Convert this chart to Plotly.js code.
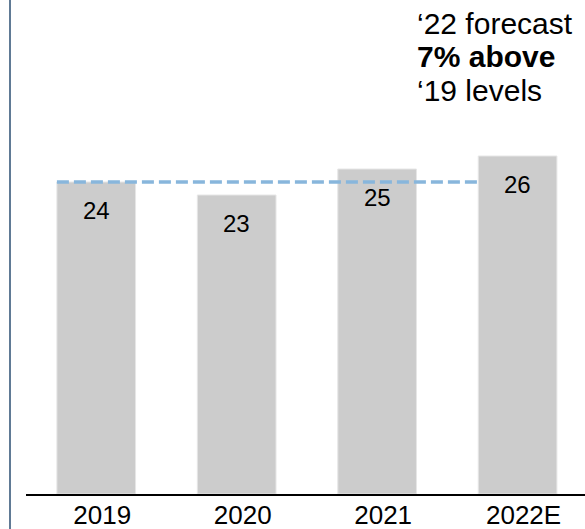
<!DOCTYPE html>
<html>
<head>
<meta charset="utf-8">
<script src="https://cdn.plot.ly/plotly-3.0.1.min.js"></script>
<style>html,body{margin:0;padding:0;background:#fff;}#chart{width:585px;height:529px;}</style>
</head>
<body>
<div id="chart"></div>
<script>
const categories = ['2019', '2020', '2021', '2022E'];
const values = [24, 23, 25, 26];
const noteLines = ['\u201822 forecast', '<b>7% above</b>', '\u201819 levels'];

const FONT = 'Arial, "Liberation Sans", sans-serif';
const W = 585, H = 529, ML = 26, MR = 0, MT = 0, MB = 35;
const plotW = W - ML - MR, plotH = H - MT - MB;
const px2paperX = p => (p - ML) / plotW;
const px2paperY = p => 1 - (p - MT) / plotH;

const trace = {
  type: 'bar',
  x: categories,
  y: values,
  marker: {color: '#cccccc', line: {color: '#e6e6e6', width: 1}},
  hoverinfo: 'skip'
};

// bar value labels (category index used as x so numeric-looking names stay on the category axis)
const annotations = values.map((v, i) => ({
  x: i, y: v, xref: 'x', yref: 'y',
  text: String(v), showarrow: false, yanchor: 'middle', yshift: -28,
  font: {family: FONT, size: 24, color: '#000'}
}));

const noteY = [23, 56.5, 90];
noteLines.forEach((t, i) => {
  annotations.push({
    x: px2paperX(415), y: px2paperY(noteY[i]), xref: 'paper', yref: 'paper',
    xanchor: 'left', yanchor: 'middle', text: t, showarrow: false,
    font: {family: FONT, size: 30, color: '#000'}
  });
});

const shapes = [
  {type: 'line', xref: 'paper', yref: 'paper',
   x0: px2paperX(10), x1: px2paperX(10), y0: px2paperY(H + 2), y1: px2paperY(-2),
   line: {color: '#607a95', width: 2}},
  {type: 'line', xref: 'x', yref: 'y',
   x0: -0.28, x1: 2.74, y0: values[0], y1: values[0],
   line: {color: '#88b6dc', width: 3.5, dash: '12px,5px'}}
];

const layout = {
  width: W, height: H,
  margin: {l: ML, r: MR, t: MT, b: MB, pad: 0},
  paper_bgcolor: '#ffffff', plot_bgcolor: '#ffffff',
  showlegend: false,
  bargap: 0.44,
  xaxis: {
    type: 'category', range: [-0.5, 3.48],
    showline: true, linecolor: '#000', linewidth: 2,
    showgrid: false, zeroline: false, ticks: '',
    ticklabelshift: 6, ticklabelstandoff: -3,
    tickfont: {family: FONT, size: 26, color: '#000'},
    fixedrange: true
  },
  yaxis: {
    range: [0, plotH / 13], visible: false, showgrid: false, zeroline: false, fixedrange: true
  },
  annotations: annotations,
  shapes: shapes
};

Plotly.newPlot('chart', [trace], layout, {staticPlot: true, displayModeBar: false});
</script>
</body>
</html>
